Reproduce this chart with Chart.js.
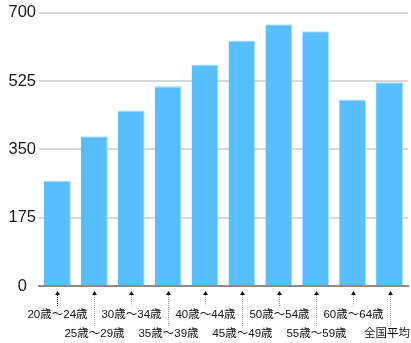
<!DOCTYPE html>
<html>
<head>
<meta charset="utf-8">
<script src="https://cdn.jsdelivr.net/npm/chart.js@4"></script>
<style>
html,body{margin:0;padding:0;background:#fff;}
#wrap{width:411px;height:343px;}
</style>
</head>
<body>
<div id="wrap"><canvas id="c" width="411" height="343"></canvas></div>
<script>
const categories = ["20歳〜24歳","25歳〜29歳","30歳〜34歳","35歳〜39歳","40歳〜44歳","45歳〜49歳","50歳〜54歳","55歳〜59歳","60歳〜64歳","全国平均"];
const values = [270, 384, 450, 512, 568, 629, 671, 653, 478, 522];
const yTicks = [0, 175, 350, 525, 700];

const leaderPlugin = {
  id: 'leaders',
  afterDraw(chart) {
    const ctx = chart.ctx;
    const xs = chart.scales.x;
    const base = chart.chartArea.bottom;
    ctx.save();
    categories.forEach((lab, i) => {
      const x = Math.round(xs.getPixelForValue(i)) + 0.5;
      const row = i % 2;
      const textY = row === 0 ? 315 : 334;
      const lineEnd = row === 0 ? 306 : 326;
      ctx.fillStyle = '#111';
      ctx.beginPath();
      ctx.moveTo(x, base + 5);
      ctx.lineTo(x - 2.5, base + 9);
      ctx.lineTo(x + 2.5, base + 9);
      ctx.closePath();
      ctx.fill();
      ctx.strokeStyle = i === 0 ? '#111' : '#aaa';
      ctx.lineWidth = 1;
      ctx.setLineDash([1, 1]);
      ctx.beginPath();
      ctx.moveTo(x, base + 9);
      ctx.lineTo(x, lineEnd);
      ctx.stroke();
      ctx.setLineDash([]);
      ctx.fillStyle = '#111';
      ctx.font = '11.5px "Liberation Sans", "Noto Sans CJK JP"';
      ctx.textAlign = 'center';
      ctx.textBaseline = 'middle';
      const w = ctx.measureText(lab).width;
      const tx = Math.min(x, chart.width - 1 - w / 2);
      ctx.fillText(lab, tx, textY);
    });
    ctx.restore();
  }
};

new Chart(document.getElementById('c'), {
  type: 'bar',
  data: {
    labels: categories,
    datasets: [{
      data: values,
      backgroundColor: 'rgb(88,191,255)',
      borderColor: 'rgb(178,225,255)',
      borderWidth: {top: 1, right: 1, left: 0, bottom: 0},
      borderSkipped: false,
      barPercentage: 0.9,
      categoryPercentage: 0.81
    }]
  },
  options: {
    responsive: false,
    animation: false,
    devicePixelRatio: 1,
    layout: {padding: {top: 11, right: 3, left: 0, bottom: 0}},
    plugins: {legend: {display: false}, tooltip: {enabled: false}},
    scales: {
      x: {
        z: 1,
        grid: {display: false},
        ticks: {display: false},
        border: {display: true, color: '#8a8a8a', width: 2},
        afterFit(s) { s.height = 57; }
      },
      y: {
        z: 1,
        min: 0, max: 700,
        afterBuildTicks(s) { s.ticks = yTicks.map(v => ({value: v})); },
        ticks: {
          crossAlign: 'center',
          padding: 3,
          color: '#1a1a1a',
          font: {family: '"Liberation Sans", Arial, sans-serif', size: 16.5}
        },
        grid: {color: '#d8d8d8', lineWidth: 2, drawTicks: false},
        border: {display: false},
        afterFit(s) { s.width = 39; }
      }
    }
  },
  plugins: [leaderPlugin]
});
</script>
</body>
</html>
